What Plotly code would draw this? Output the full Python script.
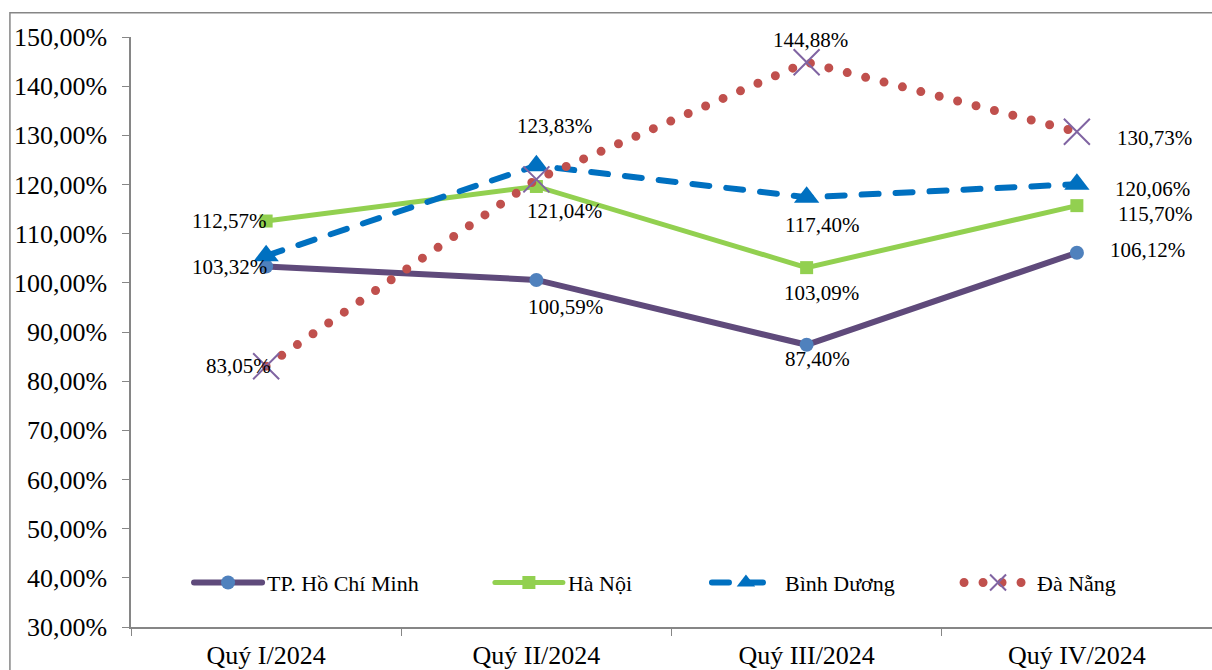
import plotly.graph_objects as go

categories = ["Quý I/2024", "Quý II/2024", "Quý III/2024", "Quý IV/2024"]
hcm = [103.32, 100.59, 87.40, 106.12]
hanoi = [112.57, 119.60, 103.09, 115.70]
binhduong = [105.50, 123.83, 117.40, 120.06]
danang = [83.05, 121.04, 144.88, 130.73]
series_names = ["TP. Hồ Chí Minh", "Hà Nội", "Bình Dương", "Đà Nẵng"]
y_ticks = [30, 40, 50, 60, 70, 80, 90, 100, 110, 120, 130, 140, 150]
y_tick_labels = ["30,00%", "40,00%", "50,00%", "60,00%", "70,00%", "80,00%", "90,00%",
                 "100,00%", "110,00%", "120,00%", "130,00%", "140,00%", "150,00%"]

FONT = "Liberation Serif"

def fmt(v):
    return f"{v:.2f}".replace(".", ",") + "%"

fig = go.Figure()

styles = [
    dict(line=dict(color="#5F4A7B", width=6), marker=dict(symbol="circle", size=14, color="#4F81BD")),
    dict(line=dict(color="#92D050", width=5), marker=dict(symbol="square", size=13, color="#92D050")),
    dict(line=dict(color="#0070C0", width=6, dash="17px,17px"), marker=dict(symbol="triangle-up", size=22, color="#0070C0")),
    dict(line=dict(color="#C0504D", width=9, dash="0px,19px"),
         marker=dict(symbol="x-thin-open", size=26, color="#8064A2", line=dict(width=2, color="#8064A2"))),
]
legend_ids = ["legend", "legend2", "legend3", "legend4"]
legend_x = [0.0537, 0.3320, 0.5328, 0.7660]
all_series = [hcm, hanoi, binhduong, danang]
for name, vals, st, lid in zip(series_names, all_series, styles, legend_ids):
    fig.add_trace(go.Scatter(x=categories, y=vals, name=name, mode="lines+markers",
                             line=st["line"], marker=st["marker"], legend=lid))

# label offsets (dx, dy in px); None = no label
offsets = [
    [(-37, 0), (29, -27), (11, -14), (71, 3)],
    [(-37, 0), None, (15, -25), (78, -8)],
    [None, (18, 40), (15, -28), (76, -5)],
    [(-28, 0), (28, -32), (4, 22), (78, -6)],
]
for vals, offs in zip(all_series, offsets):
    for c, v, o in zip(categories, vals, offs):
        if o is None:
            continue
        fig.add_annotation(x=c, y=v, text=fmt(v), showarrow=False, xshift=o[0], yshift=o[1],
                           font=dict(family=FONT, size=21, color="black"))

fig.add_shape(type="rect", xref="paper", yref="paper", x0=-0.112, x1=1.2, y0=-0.3, y1=1.041,
              line=dict(color="#868686", width=1.5), layer="below")

legend_common = dict(orientation="h", y=0.075, yanchor="middle", xanchor="left",
                     font=dict(family=FONT, size=22, color="black"),
                     itemwidth=68, bgcolor="rgba(0,0,0,0)")
layout_legends = {lid: dict(legend_common, x=lx) for lid, lx in zip(legend_ids, legend_x)}

fig.update_layout(
    width=1212, height=670,
    margin=dict(l=131, r=0, t=37, b=43, autoexpand=False),
    paper_bgcolor="white", plot_bgcolor="white",
    font=dict(family=FONT, color="black"),
    showlegend=True,
    **layout_legends,
)
fig.update_xaxes(range=[-0.5, 3.5], showline=True, linecolor="#868686", linewidth=1.5,
                 ticks="outside", tickson="boundaries", ticklen=7, tickcolor="#868686",
                 showgrid=False, zeroline=False, automargin=False, ticklabelstandoff=4,
                 tickfont=dict(family=FONT, size=26, color="black"))
fig.update_yaxes(range=[30, 150], tickvals=y_ticks, ticktext=y_tick_labels,
                 showline=True, linecolor="#868686", linewidth=1.5, ticks="outside", ticklen=7,
                 tickcolor="#868686", showgrid=False, zeroline=False, ticklabelstandoff=10,
                 automargin=False, tickfont=dict(family=FONT, size=26, color="black"))

post = """
document.body.style.margin='0';
document.querySelectorAll('.scatterlayer .js-line, .legendlines path').forEach(function(p){p.style.strokeLinecap='round';});
"""
fig.write_html("out.html", post_script=post, config={"displayModeBar": False})
